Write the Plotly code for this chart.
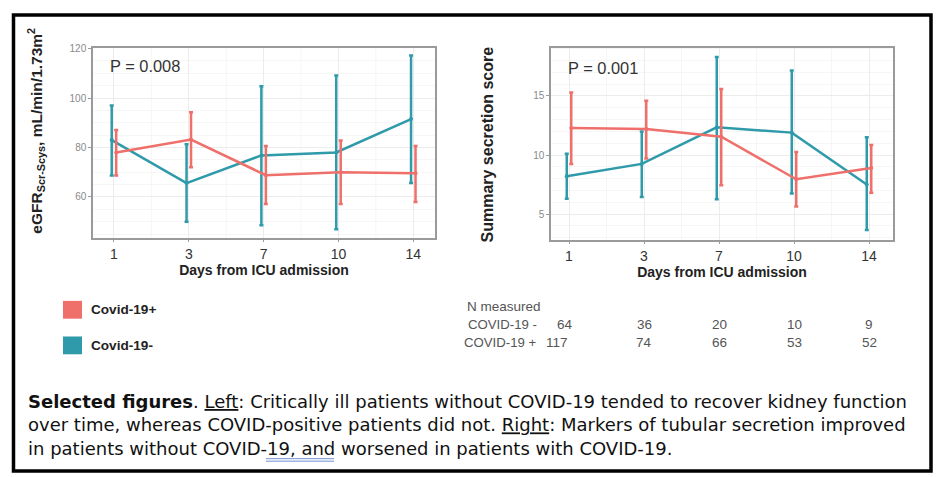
import plotly.graph_objects as go

W, H = 939, 477

# ---------------- data ----------------
days = ["1", "3", "7", "10", "14"]
series_names = ["Covid-19-", "Covid-19+"]
series_colors = ["#2F9AAA", "#EF6F6A"]

# Left panel: eGFR (mean, upper, lower)
egfr_neg_mean = [83, 65.6, 76.8, 78.0, 91.5]
egfr_neg_upper = [97, 81.3, 104.8, 109.1, 117.2]
egfr_neg_lower = [68.7, 50.0, 48.6, 47.0, 65.6]
egfr_pos_mean = [78.0, 83.2, 68.8, 70.0, 69.6]
egfr_pos_upper = [87.1, 94.2, 80.6, 82.8, 80.6]
egfr_pos_lower = [68.7, 72.0, 57.2, 57.2, 58.0]

# Right panel: summary secretion score
sec_neg_mean = [8.2, 9.25, 12.35, 11.9, 7.5]
sec_neg_upper = [10.1, 12.0, 18.3, 17.15, 11.5]
sec_neg_lower = [6.3, 6.45, 6.25, 6.75, 3.65]
sec_pos_mean = [12.3, 12.2, 11.55, 7.95, 8.9]
sec_pos_upper = [15.3, 14.6, 15.6, 10.25, 10.85]
sec_pos_lower = [9.25, 9.7, 7.45, 5.65, 6.8]

p_left = "P = 0.008"
p_right = "P = 0.001"

n_rows = ["COVID-19 -", "COVID-19 +"]
n_neg = [64, 36, 20, 10, 9]
n_pos = [117, 74, 66, 53, 52]

caption_lines = [
    "<b>Selected figures</b>. <u>Left</u>: Critically ill patients without COVID-19 tended to recover kidney function",
    "over time, whereas COVID-positive patients did not. <u>Right</u>: Markers of tubular secretion improved",
    "in patients without COVID-19, and worsened in patients with COVID-19.",
]


def px(x):
    return x / W


def py(y):
    return 1 - y / H


def trace(mean, upper, lower, color, name, xa, ya):
    return go.Scatter(
        x=days, y=mean, name=name, mode="lines+markers",
        line=dict(color=color, width=2.5),
        marker=dict(color=color, size=4),
        error_y=dict(type="data", symmetric=False,
                     array=[u - m for u, m in zip(upper, mean)],
                     arrayminus=[m - l for m, l in zip(mean, lower)],
                     color=color, thickness=2.5, width=2),
        xaxis=xa, yaxis=ya, showlegend=False,
    )


fig = go.Figure()
fig.add_trace(trace(egfr_neg_mean, egfr_neg_upper, egfr_neg_lower, series_colors[0], series_names[0], "x", "y"))
fig.add_trace(trace(egfr_pos_mean, egfr_pos_upper, egfr_pos_lower, series_colors[1], series_names[1], "x", "y"))
fig.add_trace(trace(sec_neg_mean, sec_neg_upper, sec_neg_lower, series_colors[0], series_names[0], "x2", "y2"))
fig.add_trace(trace(sec_pos_mean, sec_pos_upper, sec_pos_lower, series_colors[1], series_names[1], "x2", "y2"))

FONT = "Liberation Sans"
xcommon = dict(type="category", showline=True, mirror=True, linecolor="#9a9a9a", linewidth=1.5,
               showgrid=True, gridcolor="#ECECEC", gridwidth=1, ticks="outside", ticklen=3,
               tickcolor="#9a9a9a", tickfont=dict(family=FONT, size=14, color="#333"),
               zeroline=False,
               title=dict(text="<b>Days from ICU admission</b>", font=dict(family=FONT, size=14, color="#222"),
                          standoff=3))
ycommon = dict(showline=True, mirror=True, linecolor="#9a9a9a", linewidth=1.5,
               showgrid=True, gridcolor="#ECECEC", gridwidth=1, ticks="outside", ticklen=3,
               tickcolor="#9a9a9a", tickfont=dict(family=FONT, size=10, color="#8a8a8a"),
               zeroline=False,
               minor=dict(showgrid=True, gridcolor="#F6F6F6", gridwidth=1))

fig.update_layout(
    width=W, height=H, margin=dict(l=0, r=0, t=0, b=0),
    paper_bgcolor="white", plot_bgcolor="white",
    scattermode="group", scattergap=0.88,
    xaxis=dict(xcommon, domain=[px(93), px(435)], range=[-0.28, 4.29], anchor="y"),
    yaxis=dict(ycommon, domain=[py(235), py(43)], range=[43.6, 120.4], dtick=20, tick0=0, anchor="x"),
    xaxis2=dict(xcommon, domain=[px(551), px(893)], range=[-0.24, 4.32], anchor="y2"),
    yaxis2=dict(ycommon, domain=[py(237), py(43)], range=[2.85, 19.1], dtick=5, tick0=0, anchor="x2"),
)

shapes = []
# minor vertical gridlines between categories
for xa, ya in (("x", "y"), ("x2", "y2")):
    for i in range(len(days) - 1):
        shapes.append(dict(type="line", xref=xa, yref=ya + " domain", x0=i + 0.5, x1=i + 0.5, y0=0, y1=1,
                           line=dict(color="#F6F6F6", width=1), layer="below"))
# outer frame
shapes.append(dict(type="rect", xref="paper", yref="paper", x0=px(13.5), x1=px(931), y0=py(10), y1=py(471),
                   line=dict(color="black", width=3.5)))
# legend swatches
for i, (name, col) in enumerate(zip(series_names[::-1], series_colors[::-1])):
    y0 = 299 + 36 * i
    shapes.append(dict(type="rect", xref="paper", yref="paper", x0=px(63), x1=px(82), y0=py(y0), y1=py(y0 + 18),
                       fillcolor=col, line=dict(width=0)))
# spell-check style double underline
for yy in (458.5, 461):
    shapes.append(dict(type="line", xref="paper", yref="paper", x0=px(266), x1=px(334), y0=py(yy), y1=py(yy),
                       line=dict(color="#6E8FD0", width=1)))
fig.update_layout(shapes=shapes)


def note(text, x, y, size, color="#222", xanchor="center", angle=0, family=FONT, xref="paper", xshift=0):
    return dict(text=text, x=x, y=y, xref=xref, yref="paper", xanchor=xanchor, yanchor="middle",
                textangle=angle, showarrow=False, xshift=xshift, align="left",
                font=dict(family=family, size=size, color=color))


ann = []
# y-axis titles
ann.append(note("<b>eGFR<sub>Scr-Scys</sub>, mL/min/1.73m<sup>2</sup></b>", px(36), py(127), 15.5, angle=-90))
ann.append(note("<b>Summary secretion score</b>", px(488), py(141), 16, angle=-90))
# P values
ann.append(note(p_left, px(108), py(62), 16.4, "#333", "left"))
ann.append(note(p_right, px(566), py(64), 16.4, "#333", "left"))
# legend labels
for i, name in enumerate(series_names[::-1]):
    ann.append(note("<b>" + name + "</b>", px(89), py(308 + 36 * i), 13.6, "#222", "left"))
# N measured table
ann.append(note("N measured", px(465), py(305), 13.5, "#555", "left"))
for r, (lab, vals, ycen, xl, sh0) in enumerate(((n_rows[0], n_neg, 323, 466, -4), (n_rows[1], n_pos, 341, 462, -12))):
    ann.append(note(lab, px(xl), py(ycen), 13.2, "#555", "left"))
    for j, v in enumerate(vals):
        ann.append(note(str(v), j, py(ycen), 13.5, "#555", "center", xref="x2", xshift=sh0 if j == 0 else 0))
# caption (one multi-line block)
ann.append(note("<br>".join(caption_lines), px(26), py(424), 18.0, "#111", "left", family="DejaVu Sans"))
fig.update_layout(annotations=ann)

fig.write_html("out.html", config={"displayModeBar": False},
               post_script="document.body.style.margin='0';document.body.style.overflow='hidden';")
